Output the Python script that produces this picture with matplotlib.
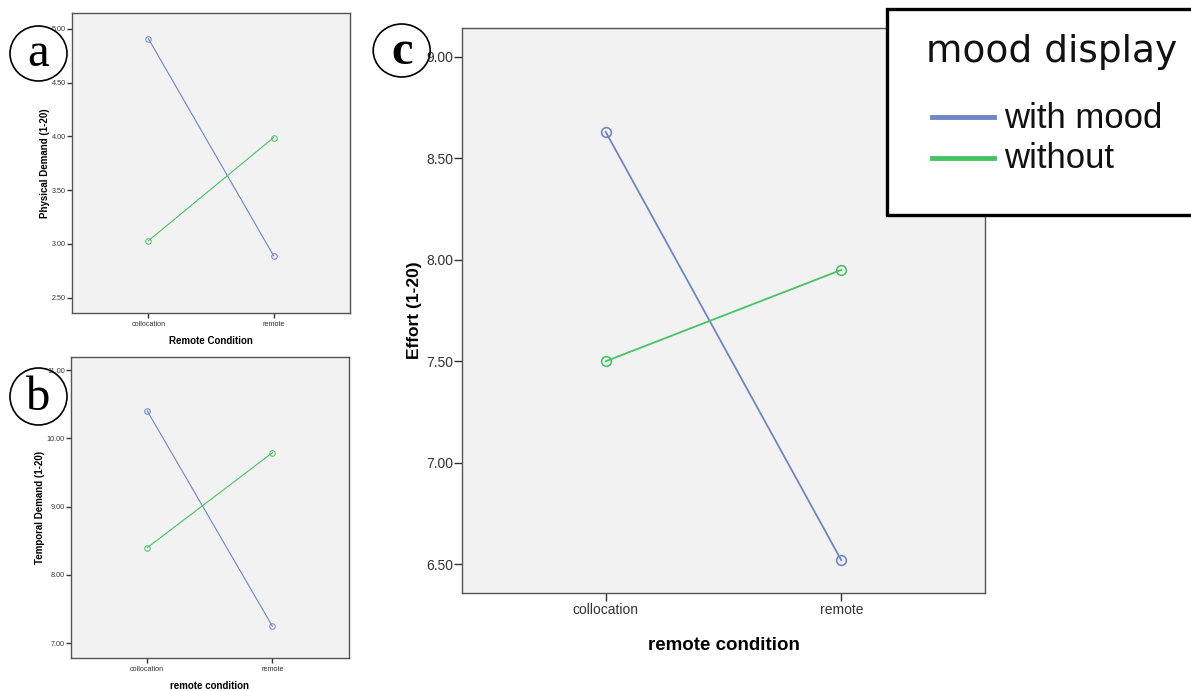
import numpy as np
import matplotlib.pyplot as plt
from matplotlib.patches import Ellipse, Rectangle
from matplotlib.lines import Line2D

plt.rcParams['font.family'] = ['Liberation Sans', 'DejaVu Sans']

# data
conditions = ["collocation", "remote"]
physical_with = [4.91, 2.89]
physical_without = [3.03, 3.99]
temporal_with = [10.40, 7.25]
temporal_without = [8.40, 9.79]
effort_with = [8.63, 6.52]
effort_without = [7.50, 7.95]

physical_ticks = [2.50, 3.00, 3.50, 4.00, 4.50, 5.00]
temporal_ticks = [7.00, 8.00, 9.00, 10.00, 11.00]
effort_ticks = [6.50, 7.00, 7.50, 8.00, 8.50, 9.00]

legend_title = "mood display"
legend_labels = ["with mood", "without"]

blue = "#6f86c6"
green = "#45c466"
W, H = 1191, 691

fig = plt.figure(figsize=(W / 100, H / 100), dpi=100)


def box(x0, y0, x1, y1):
    # pixel box (top-left origin) -> figure fraction rect
    return [x0 / W, 1 - y1 / H, (x1 - x0) / W, (y1 - y0) / H]


def fx(px):
    return px / W


def fy(py):
    return 1 - py / H


def panel(rect, s_with, s_without, ticks, ylim, ylabel, xlabel,
          fs, lfs, lw, ms, tl, ypad, xpad):
    ax = fig.add_axes(rect)
    ax.set_facecolor("#f2f2f2")
    x = np.arange(len(conditions))
    ax.plot(x, s_with, color=blue, lw=lw, marker="o", ms=ms,
            mfc="none", mec=blue, mew=lw * 0.9)
    ax.plot(x, s_without, color=green, lw=lw, marker="o", ms=ms,
            mfc="none", mec=green, mew=lw * 0.9)
    ax.set_xlim(-0.61, 1.61)
    ax.set_ylim(*ylim)
    ax.set_xticks(x)
    ax.set_xticklabels(conditions)
    ax.set_yticks(ticks)
    ax.set_yticklabels(["%.2f" % t for t in ticks])
    ax.tick_params(labelsize=fs, colors="#333333", length=tl, width=1.0,
                   pad=1)
    ax.tick_params(axis="x", pad=2)
    for s in ax.spines.values():
        s.set_color("#555555")
        s.set_linewidth(1.0)
    ax.set_ylabel(ylabel, fontsize=lfs, fontweight="bold", labelpad=ypad)
    ax.set_xlabel(xlabel, fontsize=lfs, fontweight="bold", labelpad=xpad)
    return ax


panel(box(72, 13.3, 350, 313.3), physical_with, physical_without,
      physical_ticks, (2.355, 5.146), "Physical Demand (1-20)",
      "Remote Condition", 5.2, 7, 0.8, 4, 3.5, 1.5, 6)
panel(box(71, 356.7, 348.7, 658.3), temporal_with, temporal_without,
      temporal_ticks, (6.78, 11.195), "Temporal Demand (1-20)",
      "remote condition", 5.2, 7, 0.8, 4, 3.5, 1.5, 6)
axc = panel(box(462, 28.3, 985, 592.7), effort_with, effort_without,
            effort_ticks, (6.36, 9.14), "Effort (1-20)",
            "remote condition", 10, 12.5, 1.3, 7, 5.5, 3, 14)
axc.xaxis.label.set_fontsize(13.5)

# legend box in the top right, cut off by the figure edge
fig.patches.append(Rectangle((fx(887), fy(215)), fx(1200) - fx(887),
                             fy(9) - fy(215), transform=fig.transFigure,
                             facecolor="white", edgecolor="black", lw=2.4,
                             zorder=5))
fig.text(fx(926), fy(52), legend_title, family="DejaVu Sans",
         fontsize=27, ha="left", va="center", color="#111111", zorder=6)
for i, (lab, col) in enumerate(zip(legend_labels, [blue, green])):
    yc = 117 + 41 * i
    fig.add_artist(Line2D([fx(932), fx(994)], [fy(yc), fy(yc)],
                          transform=fig.transFigure, color=col, lw=3.5,
                          zorder=6))
    fig.text(fx(1004), fy(yc + 1), lab, fontsize=25, ha="left",
             va="center", color="#111111", zorder=6)

# circled panel letters
for cx, cy, w, h, letter, weight in [(38.5, 53.5, 57, 55, "a", "normal"),
                                     (38.5, 396.5, 57, 57, "b", "normal"),
                                     (401.7, 50.5, 57, 53, "c", "bold")]:
    fig.patches.append(Ellipse((fx(cx), fy(cy)), w / W, h / H,
                               transform=fig.transFigure, fill=False,
                               edgecolor="black", lw=1.2))
    fig.text(fx(cx), fy(cy + 1), letter, family="Liberation Serif",
             fontsize=35, fontweight=weight, ha="center", va="center")

fig.savefig("out.png", dpi=100)
